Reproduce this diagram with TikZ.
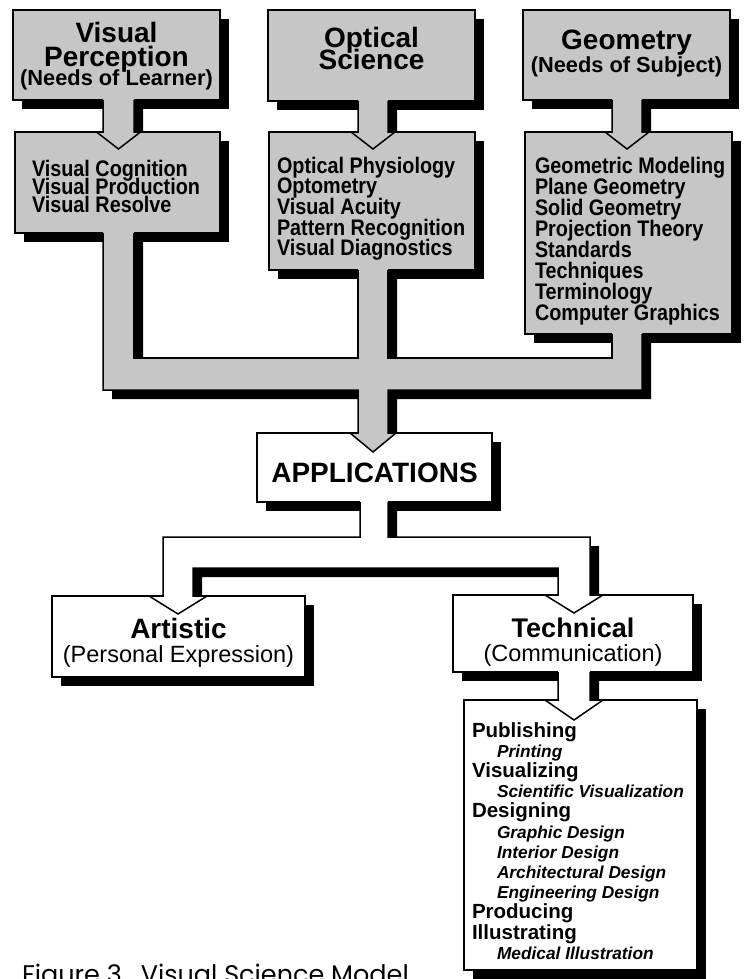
\documentclass[tikz,border=0pt]{standalone}
\usepackage{fontspec}
\setmainfont{Liberation Sans}
\newfontfamily\narrowsans[FakeStretch=0.88]{Liberation Sans}
\newfontfamily\capfont{Poppins}
\usetikzlibrary{fit}
\pgfdeclarelayer{shadowlayer}
\pgfsetlayers{shadowlayer,main}
\definecolor{screen}{RGB}{198,198,198}

% type sizes
\newcommand\fhead{\bfseries\fontsize{28}{30}\selectfont}
\newcommand\fsub{\bfseries\fontsize{21.8}{24}\selectfont}
\newcommand\flist{\narrowsans\bfseries\fontsize{22.5}{24}\selectfont}
\newcommand\fparen{\fontsize{23.5}{26}\selectfont}
\newcommand\fitem{\bfseries\fontsize{20.5}{24}\selectfont}
\newcommand\fsubitem{\bfseries\itshape\fontsize{17.3}{20}\selectfont}
\newcommand\fcaption{\capfont\fontsize{25.5}{28}\selectfont}

\tikzset{
  edge/.style={draw=black, line width=1.5pt, line join=miter},
  panel/.style={edge, inner sep=0pt, outer sep=0pt},
  grey panel/.style={panel, fill=screen},
  white panel/.style={panel, fill=white},
  centred/.style={inner sep=0pt, outer sep=0pt, anchor=base},
  item/.style={inner sep=0pt, outer sep=0pt, anchor=base west},
  tier0/.style={font=\fitem},
  tier1/.style={font=\fsubitem, xshift=25pt},
}

% a framed panel with a drop shadow: style, name, two corners
\newcommand\mkpanel[4]{%
  \node[#1, fit={#3 #4}] (#2) {};
  \begin{pgfonlayer}{shadowlayer}
    \fill[black] ([shift={(9,9)}]#2.north west) rectangle ([shift={(9,9)}]#2.south east);
  \end{pgfonlayer}}

% block arrow dropping from one panel into the next
% #1 fill, #2 centre x, #3 stem half width, #4 bottom of upper panel,
% #5 top of lower panel, #6 head half width, #7 head depth, #8 tip name
\newcommand\droparrow[8]{%
  \def\arrowshape{({#2-#3},{#4-5}) -- ({#2-#3},#5) -- ({#2-#6},#5) -- (#2,{#5+#7})
    -- ({#2+#6},#5) -- ({#2+#3},#5) -- ({#2+#3},{#4-5}) -- cycle}%
  \begin{pgfonlayer}{shadowlayer}
    \fill[black,shift={(9,9)}] \arrowshape;
  \end{pgfonlayer}
  \fill[#1] \arrowshape;
  \draw[edge] ({#2-#3},#4) -- ({#2-#3},#5) -- ({#2-#6},#5) -- (#2,{#5+#7}) coordinate (#8)
    -- ({#2+#6},#5) -- ({#2+#3},#5) -- ({#2+#3},#4);}

\begin{document}
\begin{tikzpicture}[x=1pt,y=-1pt]
\useasboundingbox (0,0) rectangle (747,979);
\clip (0,0) rectangle (747,979);

% ---------- panels ----------
\mkpanel{grey panel}{perc}{(13,10)}{(220,100)}
\mkpanel{grey panel}{percl}{(15,132)}{(220,233)}
\mkpanel{grey panel}{opt}{(268,10)}{(475,101)}
\mkpanel{grey panel}{optl}{(269,132)}{(475,270)}
\mkpanel{grey panel}{geo}{(523,10)}{(730,100)}
\mkpanel{grey panel}{geol}{(525,132)}{(732,334)}
\mkpanel{white panel}{app}{(257,433)}{(492,502)}
\mkpanel{white panel}{art}{(52,596)}{(305,677)}
\mkpanel{white panel}{tec}{(453,595)}{(693,672)}
\mkpanel{white panel}{tecl}{(464,700)}{(697,970)}

% ---------- short arrows between heading and list panels ----------
\droparrow{screen}{118.5}{15.5}{100}{132}{22}{17}{tipA}
\droparrow{screen}{373}{15}{101}{132}{22}{17}{tipB}
\droparrow{screen}{627}{15}{100}{132}{22}{17}{tipC}
\droparrow{white}{574}{16}{672}{700}{29}{20}{tipT}

% ---------- grey trunk joining the three lists into APPLICATIONS ----------
\def\trunkshape{(103,228) -- (103,390) -- (358,390) -- (358,433) -- (350,433)
  -- (373,452) -- (396,433) -- (388,433) -- (388,390) -- (642,390) -- (642,329)
  -- (612,329) -- (612,358) -- (388,358) -- (388,265) -- (358,265) -- (358,358)
  -- (134,358) -- (134,228) -- cycle}
\begin{pgfonlayer}{shadowlayer}
  \fill[black,shift={(9,9)}] \trunkshape;
\end{pgfonlayer}
\fill[screen] \trunkshape;
\draw[edge] (103,233) -- (103,390) -- (358,390) -- (358,433) -- (350,433)
  -- (373,452) coordinate (tipApp) -- (396,433) -- (388,433) -- (388,390)
  -- (642,390) -- (642,334);
\draw[edge] (612,334) -- (612,358) -- (388,358) -- (388,270);
\draw[edge] (358,270) -- (358,358) -- (134,358) -- (134,233);

% ---------- white branch from APPLICATIONS ----------
\def\branchshape{(360,497) -- (360,537) -- (163,537) -- (163,596) -- (149,596)
  -- (178,614) -- (207,596) -- (193,596) -- (193,568) -- (558,568) -- (558,595)
  -- (545,595) -- (574,613) -- (603,595) -- (590,595) -- (590,537) -- (388,537)
  -- (388,497) -- cycle}
\begin{pgfonlayer}{shadowlayer}
  \fill[black,shift={(9,9)}] \branchshape;
\end{pgfonlayer}
\fill[white] \branchshape;
\draw[edge] (360,502) -- (360,537) -- (163,537) -- (163,596) -- (149,596)
  -- (178,614) coordinate (tipArt) -- (207,596) -- (193,596) -- (193,568)
  -- (558,568) -- (558,595) -- (545,595) -- (574,613) coordinate (tipTec)
  -- (603,595) -- (590,595) -- (590,537) -- (388,537) -- (388,502);

% ---------- texts ----------
\node[centred, font=\fhead] (perc-a) at (116.5,43) {Visual};
\node[centred, font=\fhead] (perc-b) at (116.5,67) {Perception};
\node[centred, font=\fsub]  (perc-c) at (116.5,86) {(Needs of Learner)};
\node[centred, font=\fhead] (opt-a) at (371.5,48) {Optical};
\node[centred, font=\fhead] (opt-b) at (371.5,70) {Science};
\node[centred, font=\fhead] (geo-a) at (626.5,50) {Geometry};
\node[centred, font=\fsub]  (geo-b) at (626.5,73) {(Needs of Subject)};

\foreach \txt [count=\k from 0] in {Visual Cognition, Visual Production, Visual Resolve}
  \node[item, font=\flist] (percl-\k) at (32,{176+18*\k}) {\txt};
\foreach \txt [count=\k from 0] in {Optical Physiology, Optometry, Visual Acuity,
    Pattern Recognition, Visual Diagnostics}
  \node[item, font=\flist] (optl-\k) at (277,{173+20.7*\k}) {\txt};
\foreach \txt [count=\k from 0] in {Geometric Modeling, Plane Geometry, Solid Geometry,
    Projection Theory, Standards, Techniques, Terminology, Computer Graphics}
  \node[item, font=\flist] (geol-\k) at (535,{173+21*\k}) {\txt};

\node[centred, font=\bfseries\fontsize{28}{30}\selectfont] (app-a) at (374.5,482) {APPLICATIONS};
\node[centred, font=\bfseries\fontsize{28}{30}\selectfont] (art-a) at (178.5,638) {Artistic};
\node[centred, font=\fparen] (art-b) at (178.5,662) {(Personal Expression)};
\node[centred, font=\bfseries\fontsize{27}{30}\selectfont] (tec-a) at (573,637) {Technical};
\node[centred, font=\fparen] (tec-b) at (573,661) {(Communication)};

\foreach \lvl/\txt [count=\k from 0] in {0/Publishing, 1/Printing, 0/Visualizing,
    1/Scientific Visualization, 0/Designing, 1/Graphic Design, 1/Interior Design,
    1/Architectural Design, 1/Engineering Design, 0/Producing, 0/Illustrating,
    1/Medical Illustration}
  \node[item, tier\lvl] (tecl-\k) at (472,{737+20.2*\k}) {\txt};

\node[item, font=\fcaption] (caption) at (22,983) {Figure 3.\ \ Visual Science Model};
\end{tikzpicture}
\end{document}
